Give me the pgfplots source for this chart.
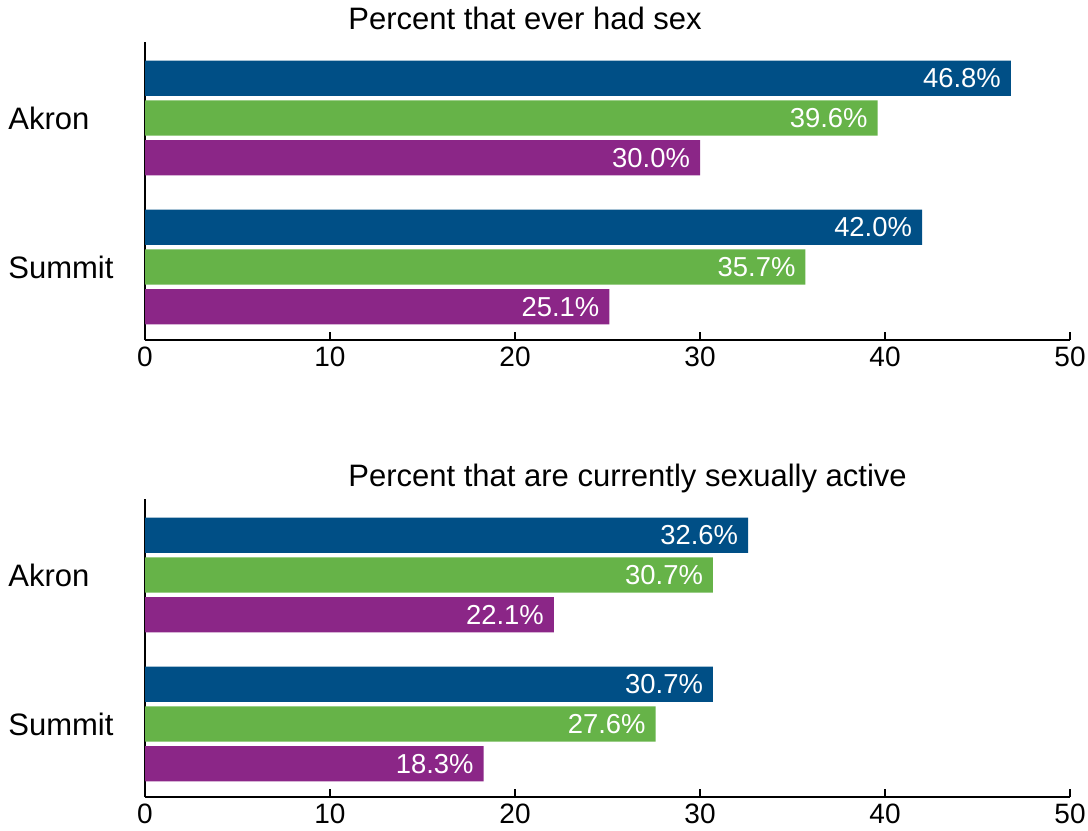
\documentclass[border=0pt]{standalone}
\usepackage{fontspec}
\setmainfont{Liberation Sans}
\usepackage{pgfplots}
\pgfplotsset{compat=1.18}
\definecolor{cblue}{RGB}{0,79,134}
\definecolor{cgreen}{RGB}{102,179,72}
\definecolor{cpurple}{RGB}{139,38,135}
\pgfplotsset{
 mystyle/.style={
  width=462.5pt, height=149pt, scale only axis,
  xmin=0, xmax=50, ymin=-0.49, ymax=1.51,
  axis x line=bottom, axis y line=left,
  axis line style={-, line width=1pt},
  xtick={0,10,...,50}, tick align=inside, major tick length=4pt,
  xtick style={black, line width=1pt},
  ytick={0,1}, yticklabels={Summit,Akron}, ytick style={draw=none},
  yticklabel style={anchor=west, xshift=-64.5pt, inner sep=0pt, font=\fontsize{15.5}{18}\selectfont},
  xticklabel style={inner xsep=0pt, font=\fontsize{14}{17}\selectfont},
  /pgf/number format/assume math mode=true,
  title style={at={(axis description cs:0.2195,1)}, anchor=base west, yshift=0.5pt, font=\fontsize{15.5}{18}\selectfont, inner sep=0pt},
  xbar, bar width=0.236,
  point meta=x,
  nodes near coords={\pgfmathprintnumber[fixed,fixed zerofill,precision=1]{\pgfplotspointmeta}\%},
  every node near coord/.append style={anchor=east, text=white, font=\fontsize{13.7}{16}\selectfont, xshift=-1.5pt},
 }
}
\begin{document}
\begin{tikzpicture}
\begin{axis}[mystyle, name=top, title={Percent that ever had sex}]
\addplot[fill=cblue, draw=none, bar shift=0pt] coordinates {(46.8,1.267) (42.0,0.267)};
\addplot[fill=cgreen, draw=none, bar shift=0pt] coordinates {(39.6,1) (35.7,0)};
\addplot[fill=cpurple, draw=none, bar shift=0pt] coordinates {(30.0,0.733) (25.1,-0.267)};
\end{axis}
\begin{axis}[mystyle, name=bot, at={(0,-228.5pt)}, title={Percent that are currently sexually active}]
\addplot[fill=cblue, draw=none, bar shift=0pt] coordinates {(32.6,1.267) (30.7,0.267)};
\addplot[fill=cgreen, draw=none, bar shift=0pt] coordinates {(30.7,1) (27.6,0)};
\addplot[fill=cpurple, draw=none, bar shift=0pt] coordinates {(22.1,0.733) (18.3,-0.267)};
\end{axis}
\path ([shift={(-72.5pt,21pt)}]top.north west) ([shift={(9pt,-16pt)}]bot.south east);
\end{tikzpicture}
\end{document}
